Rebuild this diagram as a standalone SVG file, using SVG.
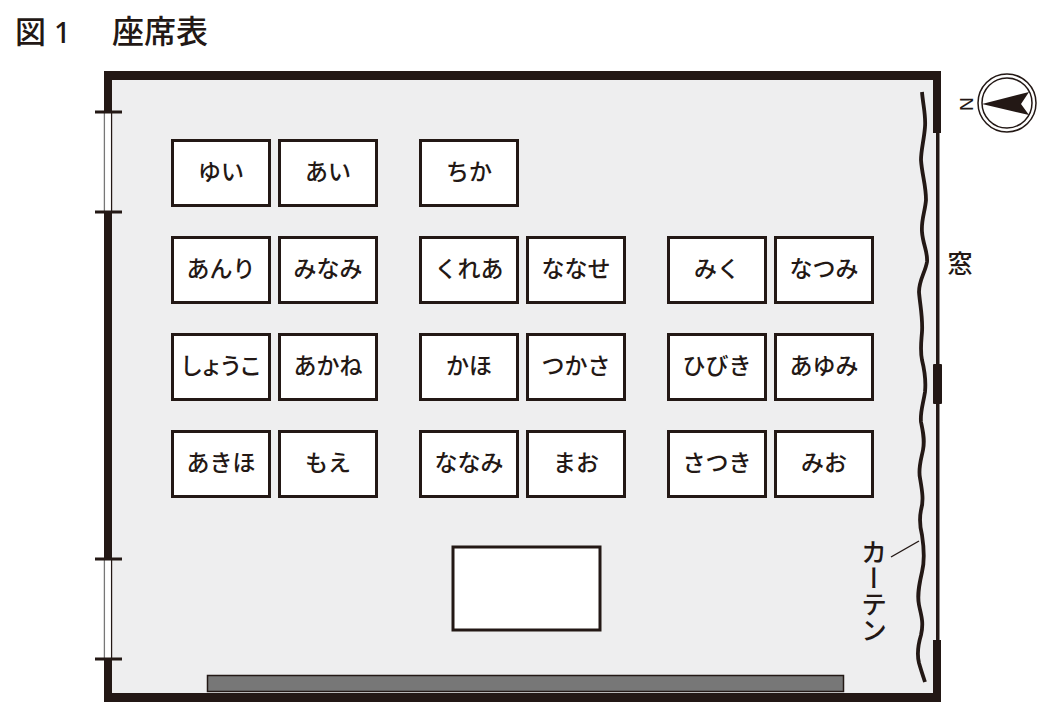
<svg xmlns="http://www.w3.org/2000/svg" width="1053" height="719" viewBox="0 0 1053 719">
<style>
text{font-family:"Noto Sans CJK JP","Noto Sans",sans-serif;fill:#231815;font-weight:500}
.seat rect{fill:#fff;stroke:#231815;stroke-width:3}
.seat text{font-size:23px;text-anchor:middle;dominant-baseline:central}
.wall{fill:#231815}
.thin{stroke:#231815;stroke-width:1.4;fill:none}
</style>
<rect width="1053" height="719" fill="#fff"/>
<g id="title"><text x="15" y="43" font-size="31">図</text><text x="54" y="43" font-size="29" style="font-family:'Noto Sans',sans-serif">1</text><text x="112" y="43" font-size="32">座席表</text></g>
<g id="room">
<rect x="108" y="75" width="829" height="623" fill="#eeeeef"/>
<path class="wall" d="M104 71H941V133H933V80H112V112H104ZM104 212H112V693H933V640H941V702H104V659H112V559H104Z" fill-rule="evenodd"/>
<rect class="wall" x="936" y="133" width="3.500" height="507"/>
<rect class="wall" x="933" y="364" width="9" height="40" rx="1"/>
<path d="M104.500 112V212M104.500 559V659" stroke="#777" stroke-width="1.500" fill="none"/>
<path class="thin" d="M111.500 112V212M111.500 559V659"/>
<rect x="105.200" y="112" width="5.600" height="100" fill="#fff"/>
<rect x="105.200" y="559" width="5.600" height="100" fill="#fff"/>
<path d="M95 112H122M95 212H122M95 559H122M95 659H122" stroke="#231815" stroke-width="3.200" fill="none"/>
</g>
<g id="curtain"><path d="M922 92C923 105 926 115 925 127C924 140 921 150 921 160C922 175 926 185 926 200C925 212 921 220 922 232C923 245 928 252 927 262C925 273 919 280 919 292C920 305 923 318 922 332C921 345 920 350 922 360C925 372 926 382 925 392C923 405 920 412 921 422C923 432 925 440 923 450C921 460 918 468 920 478C922 490 924 500 921 510C919 520 920 527 922 535C924 548 925 560 922 572C919 585 917 595 919 605C921 615 924 622 921 635C918 645 917 655 919 663C921 670 923 676 925 682" fill="none" stroke="#231815" stroke-width="3.800"/></g>
<g id="connectors"><path class="thin" d="M891 557L919 541"/></g>
<g class="labels">
<text x="874" y="539" font-size="26" style="writing-mode:vertical-rl;text-orientation:mixed" text-anchor="start" dominant-baseline="central">カーテン</text>
<text x="960" y="262" font-size="25" text-anchor="middle" dominant-baseline="central">窓</text>
</g>
<g id="compass">
<circle cx="1007" cy="103" r="29" fill="#fff" stroke="#231815" stroke-width="1.500"/>
<circle cx="1007" cy="103" r="25" fill="#fff" stroke="#231815" stroke-width="1.500"/>
<path class="wall" d="M982 104L1029 92L1021 104L1029 115Z"/>
<text x="966" y="104" font-size="19" text-anchor="middle" dominant-baseline="central" transform="rotate(90 966 104)" style="font-family:'Liberation Sans',sans-serif;font-weight:400">N</text>
</g>
<g id="s1" class="seat"><rect x="172.500" y="140.500" width="97" height="65"/><text x="221" y="170">ゆい</text></g>
<g id="s2" class="seat"><rect x="279.500" y="140.500" width="97" height="65"/><text x="328" y="170">あい</text></g>
<g id="s3" class="seat"><rect x="420.500" y="140.500" width="97" height="65"/><text x="469" y="170">ちか</text></g>
<g id="s4" class="seat"><rect x="172.500" y="237.500" width="97" height="65"/><text x="221" y="267">あんり</text></g>
<g id="s5" class="seat"><rect x="279.500" y="237.500" width="97" height="65"/><text x="328" y="267">みなみ</text></g>
<g id="s6" class="seat"><rect x="420.500" y="237.500" width="97" height="65"/><text x="469" y="267">くれあ</text></g>
<g id="s7" class="seat"><rect x="527.500" y="237.500" width="97" height="65"/><text x="576" y="267">ななせ</text></g>
<g id="s8" class="seat"><rect x="668.500" y="237.500" width="97" height="65"/><text x="717" y="267">みく</text></g>
<g id="s9" class="seat"><rect x="775.500" y="237.500" width="97" height="65"/><text x="824" y="267">なつみ</text></g>
<g id="s10" class="seat"><rect x="172.500" y="334.500" width="97" height="65"/><text x="221" y="364" textLength="82" lengthAdjust="spacing">しょうこ</text></g>
<g id="s11" class="seat"><rect x="279.500" y="334.500" width="97" height="65"/><text x="328" y="364">あかね</text></g>
<g id="s12" class="seat"><rect x="420.500" y="334.500" width="97" height="65"/><text x="469" y="364">かほ</text></g>
<g id="s13" class="seat"><rect x="527.500" y="334.500" width="97" height="65"/><text x="576" y="364">つかさ</text></g>
<g id="s14" class="seat"><rect x="668.500" y="334.500" width="97" height="65"/><text x="717" y="364">ひびき</text></g>
<g id="s15" class="seat"><rect x="775.500" y="334.500" width="97" height="65"/><text x="824" y="364">あゆみ</text></g>
<g id="s16" class="seat"><rect x="172.500" y="431.500" width="97" height="65"/><text x="221" y="461">あきほ</text></g>
<g id="s17" class="seat"><rect x="279.500" y="431.500" width="97" height="65"/><text x="328" y="461">もえ</text></g>
<g id="s18" class="seat"><rect x="420.500" y="431.500" width="97" height="65"/><text x="469" y="461">ななみ</text></g>
<g id="s19" class="seat"><rect x="527.500" y="431.500" width="97" height="65"/><text x="576" y="461">まお</text></g>
<g id="s20" class="seat"><rect x="668.500" y="431.500" width="97" height="65"/><text x="717" y="461">さつき</text></g>
<g id="s21" class="seat"><rect x="775.500" y="431.500" width="97" height="65"/><text x="824" y="461">みお</text></g>
<g id="desk" class="seat"><rect x="453" y="547" width="147" height="83"/></g>
<g id="board"><rect x="207.500" y="675.500" width="636" height="16" fill="#777" stroke="#231815" stroke-width="1.500"/></g>
</svg>
